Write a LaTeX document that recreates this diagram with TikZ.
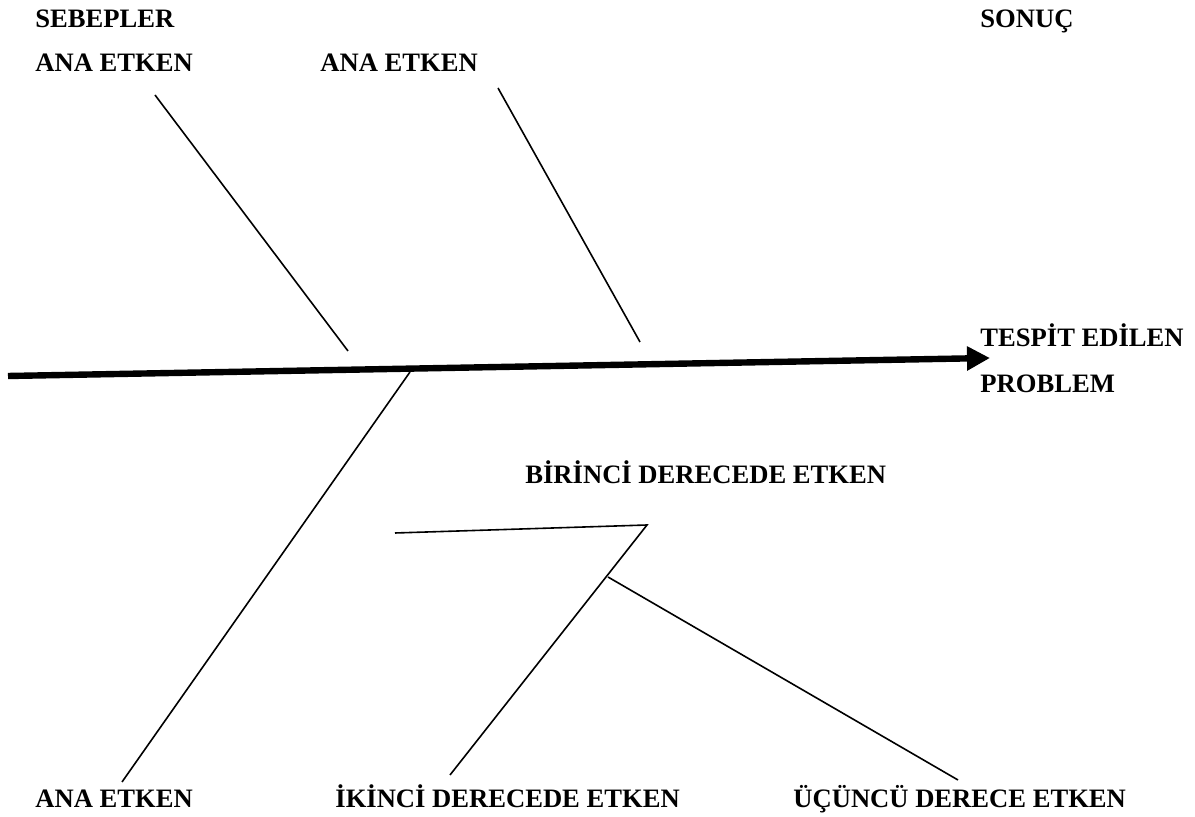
\documentclass[tikz,border=0pt]{standalone}
\usepackage{fontspec}
\setmainfont{Liberation Serif}
\usetikzlibrary{arrows.meta}
\tikzset{
  lbl/.style={anchor=base west, inner sep=0pt, font=\fontsize{13.3}{15}\selectfont\bfseries},
  bone/.style={line width=0.8pt},
  spine/.style={-{Triangle[length=11.5pt,width=11.5pt]}, line width=3.2pt},
}
\begin{document}
\begin{tikzpicture}[x=0.5pt, y=-0.5pt]
    \useasboundingbox (0,0) rectangle (1195,817);
    \node[lbl] (seb) at (35,28)   {SEBEPLER};
    \node[lbl] (son) at (980,28)  {SONUÇ};
    \node[lbl] (a1)  at (35,72)   {ANA ETKEN};
    \node[lbl] (a2)  at (320,72)  {ANA ETKEN};
    \node[lbl] (tes) at (980,347) {TESPİT EDİLEN};
    \node[lbl] (pro) at (980,393) {PROBLEM};
    \node[lbl] (bir) at (525,484) {BİRİNCİ DERECEDE ETKEN};
    \node[lbl] (a3)  at (35,808)  {ANA ETKEN};
    \node[lbl] (iki) at (335,808) {İKİNCİ DERECEDE ETKEN};
    \node[lbl] (ucu) at (793,808) {ÜÇÜNCÜ DERECE ETKEN};
    \coordinate (tail) at (8,376);
    \coordinate (head) at (990,358);
    \coordinate (t1a) at (155,95);  \coordinate (t1b) at (348,351);
    \coordinate (t2a) at (498,88);  \coordinate (t2b) at (640,342);
    \coordinate (b1a) at (410,372); \coordinate (b1b) at (122,782);
    \coordinate (h1) at (395,533);  \coordinate (h2) at (647,525);
    \coordinate (d1) at (450,775);  \coordinate (jn) at (608,577);
    \coordinate (d2) at (958,780);
    \draw[spine] (tail) -- (head);
    \draw[bone] (t1a) -- (t1b);
    \draw[bone] (t2a) -- (t2b);
    \draw[bone] (b1a) -- (b1b);
    \draw[bone] (h1) -- (h2) -- (d1);
    \draw[bone] (jn) -- (d2);
\end{tikzpicture}
\end{document}
